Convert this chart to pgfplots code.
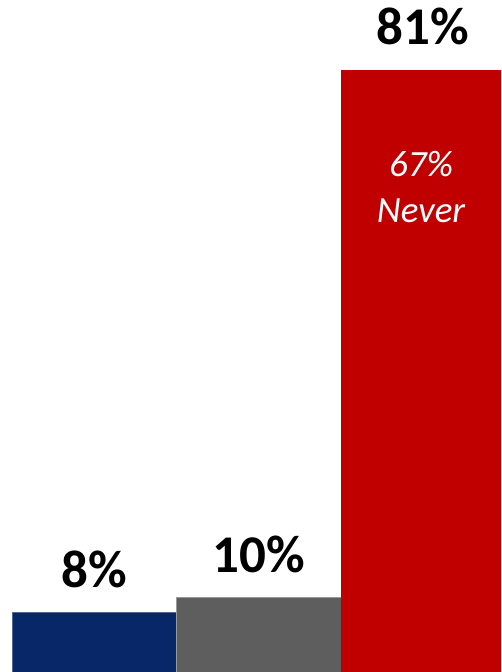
\documentclass[border=0pt]{standalone}
\usepackage{pgfplots}
\pgfplotsset{compat=1.18}
\usepackage{fontspec}
\setmainfont{Carlito}
\definecolor{cblue}{HTML}{072768}
\definecolor{cgray}{HTML}{5E5E5E}
\definecolor{cred}{HTML}{C00000}
\begin{document}
\begin{tikzpicture}
\begin{axis}[
  scale only axis, width=501pt, height=672pt,
  xmin=0, xmax=501, ymin=0, ymax=90.4,
  axis line style={draw=none}, ticks=none, clip=true,
  ybar, bar width=164.5,
  point meta=explicit symbolic,
  nodes near coords={\pgfplotspointmeta\%},
  every node near coord/.append style={anchor=base, yshift=25pt, font=\fontsize{53}{60}\selectfont\bfseries, text=black},
]
\addplot[ybar, bar shift=0pt, fill=cblue, draw=cblue!70!white, line width=0.6pt] coordinates {(94.5,8)[8]};
\addplot[ybar, bar shift=0pt, fill=cgray, draw=gray!80!white, line width=0.6pt] coordinates {(259,10)[10]};
\addplot[ybar, bar shift=0pt, fill=cred, draw=none] coordinates {(423,81)[81]};
\node[text=white, align=center, font=\fontsize{37}{46}\selectfont\itshape] at (axis cs:421,65.3) {67\%\\Never};
\end{axis}
\end{tikzpicture}
\end{document}
